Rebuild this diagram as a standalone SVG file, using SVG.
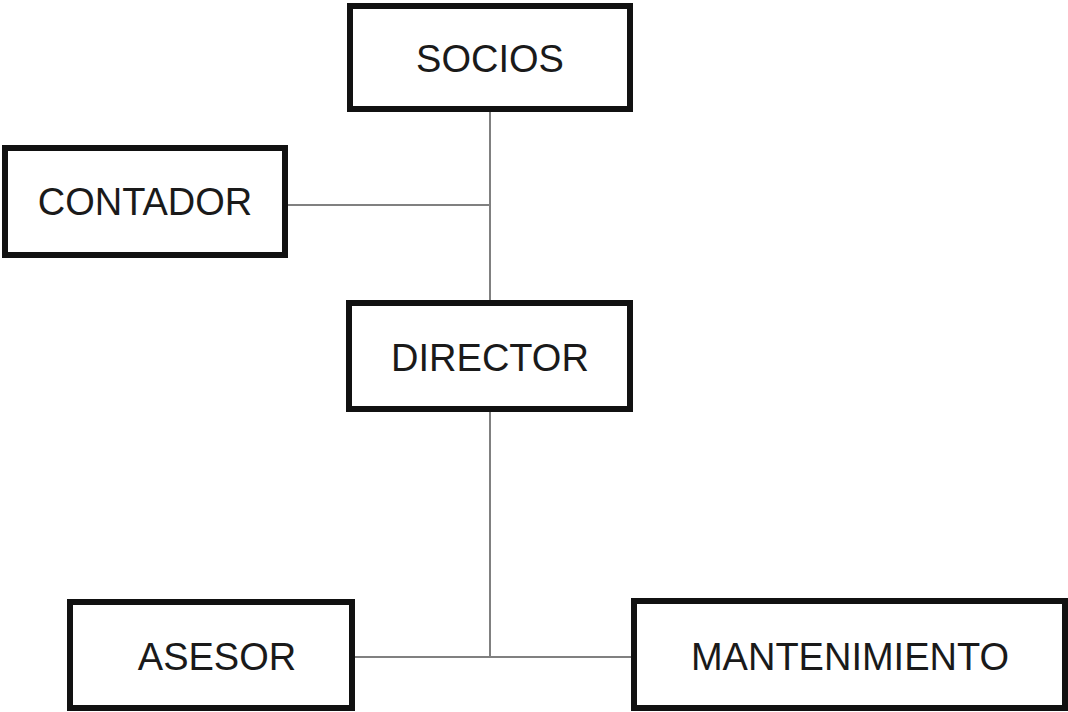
<svg xmlns="http://www.w3.org/2000/svg" width="1068" height="712" viewBox="0 0 1068 712">
<style>
.box{fill:#fff;stroke:#111;stroke-width:6}
.lbl{font-family:"Liberation Sans",Arial,sans-serif;font-size:38px;fill:#1a1a1a;text-anchor:middle}
.conn{stroke:#808080;stroke-width:2;fill:none}
</style>
<rect width="1068" height="712" fill="#fff"/>
<g id="connectors">
<line class="conn" x1="490" y1="112" x2="490" y2="300"/>
<line class="conn" x1="288" y1="205" x2="490" y2="205"/>
<line class="conn" x1="490" y1="412" x2="490" y2="657"/>
<line class="conn" x1="355" y1="657" x2="631" y2="657"/>
</g>
<g id="socios">
<rect class="box" x="350" y="6" width="280" height="103"/>
<text class="lbl" x="490" y="72">SOCIOS</text>
</g>
<g id="contador">
<rect class="box" x="5" y="148" width="280" height="107"/>
<text class="lbl" x="145" y="215">CONTADOR</text>
</g>
<g id="director">
<rect class="box" x="349" y="303" width="281" height="106"/>
<text class="lbl" x="490" y="371">DIRECTOR</text>
</g>
<g id="asesor">
<rect class="box" x="70" y="602" width="282" height="106"/>
<text class="lbl" x="217" y="670">ASESOR</text>
</g>
<g id="mantenimiento">
<rect class="box" x="634" y="601" width="431" height="107"/>
<text class="lbl" x="850" y="670">MANTENIMIENTO</text>
</g>
</svg>
